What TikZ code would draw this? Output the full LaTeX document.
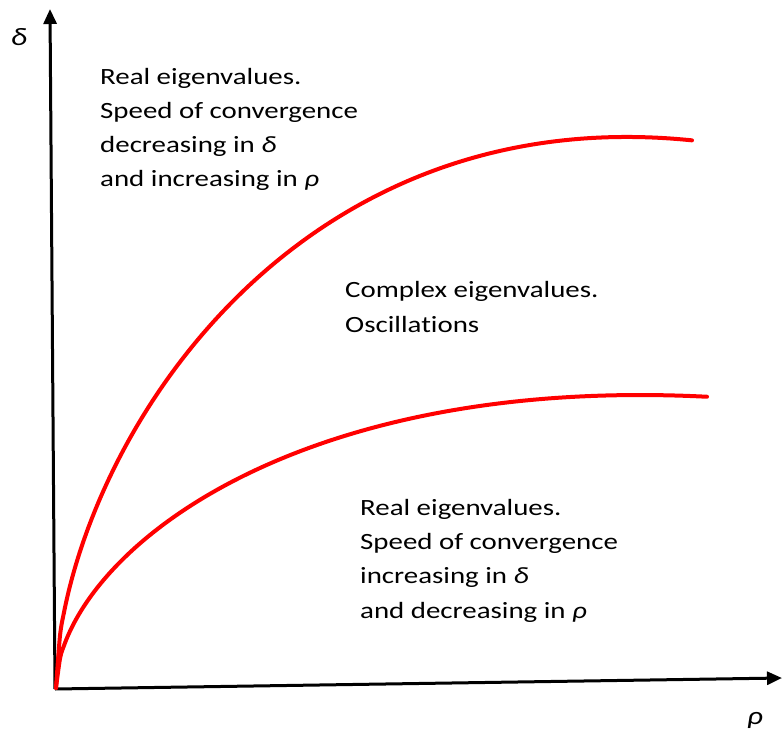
\documentclass[tikz,border=0pt]{standalone}
\usepackage{fontspec}
\setmainfont{Carlito}[FakeStretch=1.24,Ligatures={NoCommon,NoContextual}]
\usetikzlibrary{arrows.meta}
\begin{document}
\begin{tikzpicture}[x=1pt,y=-1pt,
  axis/.style={line width=3pt,-{Triangle[length=15pt,width=13pt]}},
  bound/.style={line width=4pt,red,line cap=round},
  region/.style={anchor=base west,inner sep=0pt,align=left,
    font=\fontsize{23.3}{34.3}\selectfont},
  axlabel/.style={anchor=base,inner sep=0pt,font=\fontsize{25}{30}\selectfont\itshape}]
\useasboundingbox (0,0) rectangle (782,738);

% axes
\coordinate (O) at (55,689);
\coordinate (ytip) at (50,9);
\coordinate (xtip) at (782,678);
\draw[axis] (O) -- (ytip);
\draw[axis] (O) -- (xtip);
\node[axlabel] (dl) at (19,46) {δ};
\node[axlabel] (rl) at (755,724) {ρ};

% boundaries between the regions: d = a*sqrt(r) + b*r + c*r^(3/2)
\draw[bound] plot[domain=0:636,samples=160,smooth]
  ({56+\x},{688-(sqrt(\x)*(24.71-0.03754*\x)+0.8279*\x)});
\draw[bound] plot[domain=0:651,samples=160,smooth]
  ({56+\x},{688-(sqrt(\x)*(14.2-0.01721*\x)+0.330*\x)});

% region descriptions (anchored at the baseline of the last line)
\node[region] (upper) at (100,187) {Real eigenvalues.\\Speed of convergence\\decreasing in {\itshape δ}\\and increasing in {\itshape ρ}};
\node[region] (middle) at (345,332) {Complex eigenvalues.\\Oscillations};
\node[region] (lower) at (360,618) {Real eigenvalues.\\Speed of convergence\\increasing in {\itshape δ}\\and decreasing in {\itshape ρ}};
\end{tikzpicture}
\end{document}
